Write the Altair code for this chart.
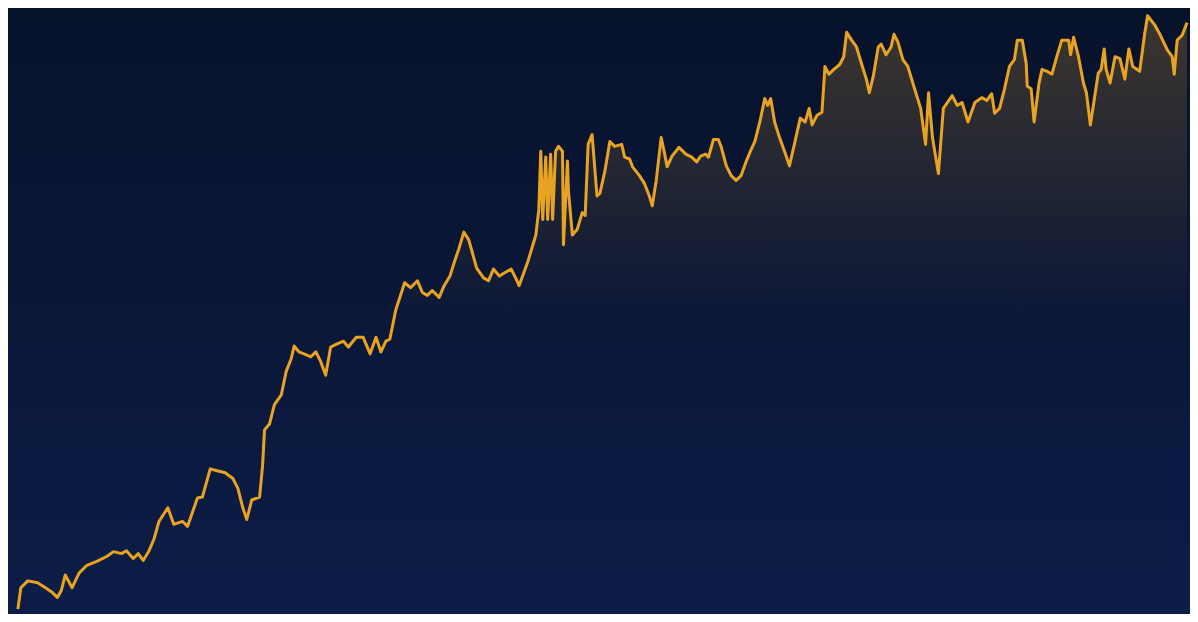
import altair as alt
import pandas as pd

# x positions (trading-day index) and values
days = [
    10, 13, 20, 30, 38, 45, 50, 54, 58, 65, 72, 80, 90, 100, 107, 115, 120, 127, 132, 137, 143, 148,
    153, 162, 168, 177, 182, 192, 197, 205, 212, 220, 228, 233, 238, 242, 247, 255, 258, 260, 265, 270, 277, 282, 287, 290, 295, 300,
    307, 312, 317, 322, 327, 333, 340, 345, 353, 360, 367, 373, 378, 383, 387, 393, 402, 408, 415, 420, 425, 430, 437, 442, 448,
    452, 457, 462, 467, 475, 482, 487, 492, 498, 503, 510, 515, 518, 527, 535, 538, 540, 542, 545, 547, 550, 552, 555, 558, 562, 563, 567, 568, 572, 577, 582, 585, 588, 592, 597, 600,
    605, 610, 615, 622, 625, 630, 633, 640, 645, 650, 653, 657, 662, 665, 668, 673, 680, 687, 693, 698, 702, 707, 710, 715, 720, 723, 728, 733, 738, 743, 748,
    752, 757, 762, 767, 770, 773, 777, 782, 787, 792, 797, 803, 808, 812, 815, 820, 825, 828, 832, 837, 843, 847, 850, 855, 860, 865, 870, 873, 877, 882, 885, 890, 895, 898,
    902, 907, 912, 918, 925, 930, 933, 937, 943, 948, 957, 962, 967, 973, 980, 987, 992, 997, 1000, 1005, 1010, 1015, 1020, 1023, 1028, 1032, 1033, 1037, 1040, 1045, 1048,
    1053, 1058, 1063, 1068, 1075, 1077, 1080, 1085, 1090, 1093, 1097, 1102, 1105, 1108, 1111, 1113, 1117, 1122, 1127, 1132, 1136, 1140, 1147, 1152, 1155, 1162, 1168, 1175, 1180, 1182, 1185, 1190, 1195,
]
values = [
    5, 27, 34, 32, 27, 22, 17, 24, 40, 27, 42, 50, 54, 59, 64, 62, 65, 57, 62, 55, 65, 77,
    95, 109, 92, 95, 90, 119, 120, 149, 147, 145, 139, 129, 109, 97, 117, 120, 152, 189, 195, 215, 225, 249, 262, 275, 269, 267,
    264, 269, 259, 245, 274, 277, 280, 274, 284, 284, 267, 284, 269, 280, 282, 312, 340, 335, 342, 330, 327, 332, 325, 337, 347,
    360, 375, 392, 384, 355, 345, 342, 354, 347, 350, 354, 344, 337, 362, 389, 415, 475, 405, 469, 405, 472, 405, 475, 480, 475, 379, 465, 435, 389, 395, 412, 409, 482, 492, 429, 432,
    455, 485, 480, 482, 469, 467, 459, 450, 442, 429, 419, 445, 489, 475, 459, 470, 479, 472, 469, 464, 470, 472, 469, 487, 487, 479, 460, 450, 445, 450, 464,
    474, 485, 505, 529, 522, 529, 505, 489, 475, 460, 482, 509, 505, 519, 502, 512, 515, 562, 554, 559, 564, 572, 597, 589, 582, 565, 549, 535, 552, 582, 585, 574, 582, 595,
    587, 569, 562, 542, 519, 482, 535, 489, 452, 519, 532, 522, 525, 505, 525, 530, 527, 534, 514, 519, 539, 562, 569, 589, 589, 565, 542, 539, 505, 545, 559,
    557, 554, 572, 589, 589, 574, 592, 572, 545, 535, 502, 535, 555, 559, 580, 559, 545, 572, 570, 549, 580, 562, 557, 595, 614, 605, 594, 579, 572, 554, 589, 594, 607,
]
assert len(days) == len(values)

df = pd.DataFrame({"day": days, "value": values})

W, H = 1182, 606
x_enc = alt.X("day:Q", axis=None, scale=alt.Scale(domain=[0, 1198], nice=False, zero=False))
y_enc = alt.Y("value:Q", axis=None, scale=alt.Scale(domain=[0, 622], nice=False, zero=False))

bg = alt.Chart(pd.DataFrame({"k": [0]})).mark_rect(
    fill=alt.Gradient(
        gradient="linear",
        stops=[
            alt.GradientStop(color="#07122b", offset=0),
            alt.GradientStop(color="#0a1738", offset=0.5),
            alt.GradientStop(color="#0c1d48", offset=1),
        ],
        x1=0, x2=0, y1=0, y2=1,
    ),
    strokeWidth=0,
).encode(x=alt.value(0), x2=alt.value(W), y=alt.value(0), y2=alt.value(H))

area = alt.Chart(df).mark_area(
    fill=alt.Gradient(
        gradient="linear",
        stops=[
            alt.GradientStop(color="rgba(205,150,55,0.27)", offset=0),
            alt.GradientStop(color="rgba(205,150,55,0.12)", offset=0.28),
            alt.GradientStop(color="rgba(205,150,55,0)", offset=0.52),
        ],
        x1=0, x2=0, y1=0, y2=1,
    ),
    interpolate="linear",
).encode(x=x_enc, y=y_enc)

line = alt.Chart(df).mark_line(
    color="#e9a322", strokeWidth=3, interpolate="linear", strokeJoin="round"
).encode(x=x_enc, y=y_enc)

chart = (
    alt.layer(bg, area, line)
    .properties(width=W, height=H, padding=0, background="#0a1738")
    .configure_view(stroke=None)
)

chart.save("out.html", embed_options={"renderer": "svg", "actions": False})
